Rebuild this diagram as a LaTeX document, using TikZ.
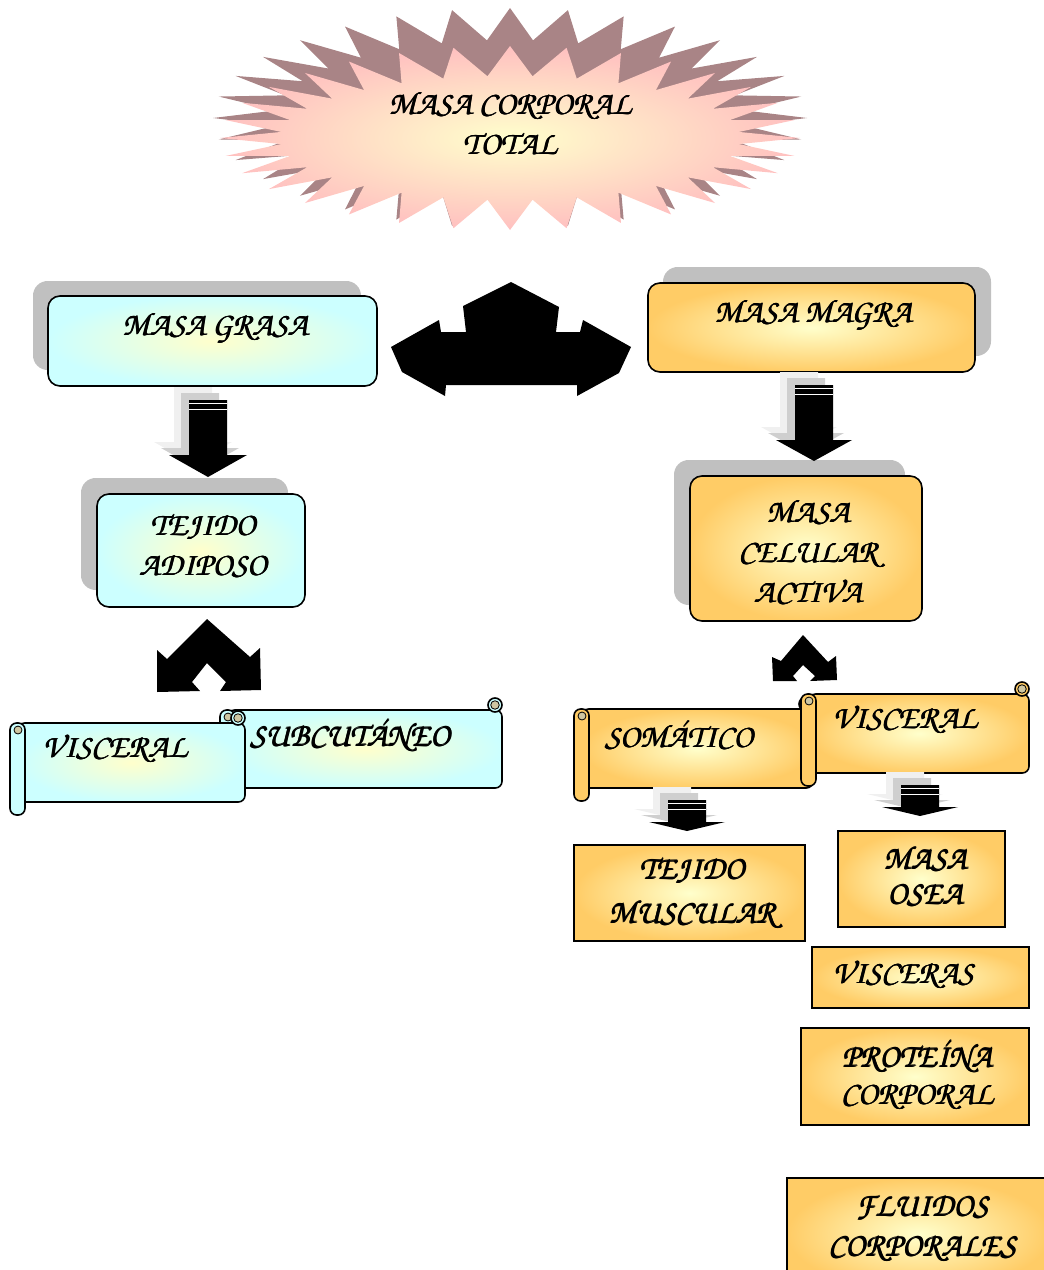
\documentclass[tikz,border=0pt]{standalone}
\usepackage[T1]{fontenc}
\definecolor{cy}{HTML}{CCFFFF}
\definecolor{ly}{HTML}{FFFFCC}
\definecolor{og}{HTML}{FFCC66}
\definecolor{pk}{HTML}{FFC0C0}
\definecolor{mv}{HTML}{A98486}
\definecolor{sh}{HTML}{C0C0C0}
\definecolor{tn}{HTML}{CFC7A2}
\newcommand\zc{\fontencoding{T1}\fontfamily{pzc}\fontseries{mb}\fontshape{it}\fontsize{24.5}{30}\selectfont}
\newcommand\bl[1]{\leavevmode\rlap{#1}\rlap{\kern0.3pt\raisebox{0.35pt}{#1}}\kern0.55pt#1}
\tikzset{
 lbl/.style={font=\zc, align=center, inner sep=0pt, text=black},
 cyfill/.style={shade, inner color=ly, outer color=cy},
 ogfill/.style={shade, inner color=ly, outer color=og},
 rbox/.style={draw=black, line width=1.2pt, rounded corners=9pt, inner sep=0pt},
 sbox/.style={draw=black, line width=1.5pt, inner sep=0pt},
 shadowbox/.style={fill=sh, rounded corners=11pt},
}
\newcommand\arrowpoly[9]{\fill[#1] ({#4-#8+#2},{#5+#3}) -- ({#4+#8+#2},{#5+#3}) -- ({#4+#8+#2},{#6+#3}) -- ({#4+#9+#2},{#6+#3}) -- ({#4+#2},{#7+#3}) -- ({#4-#9+#2},{#6+#3}) -- ({#4-#8+#2},{#6+#3}) -- cycle;}
\newcommand\blockdown[6]{%
 \arrowpoly{gray!12}{-15}{-13}{#1}{#2}{#3}{#4}{#5}{#6}
 \arrowpoly{gray!38}{-8}{-7}{#1}{#2}{#3}{#4}{#5}{#6}
 \arrowpoly{black}{0}{0}{#1}{#2}{#3}{#4}{#5}{#6}
 \draw[white, line width=0.5pt] ({#1-#5},{#2+3}) -- ({#1+#5},{#2+3});
 \draw[white, line width=0.5pt] ({#1-#5},{#2+9}) -- ({#1+#5},{#2+9});
}
\newcommand\scrollshape[5]{%
 \draw[line width=1.2pt, shade, inner color=ly, outer color=#5, rounded corners=5pt] ({#1+8},#2) -- (#3,#2) -- (#3,#4) -- ({#1+8},#4) -- cycle;
 \filldraw[line width=1.2pt, fill=#5] ({#3-7},{#2-5}) circle[radius=5.25pt];
 \filldraw[line width=0.6pt, fill=tn] ({#3-7},{#2-5}) circle[radius=3.2pt];
 \draw[line width=1.2pt, fill=#5, rounded corners=5pt] (#1,#2) rectangle ({#1+15},{#4+13});
 \filldraw[line width=0.6pt, fill=tn] ({#1+8},{#2+7}) circle[radius=3pt];
}
\begin{document}
\begin{tikzpicture}[x=0.75pt, y=-0.75pt]
\useasboundingbox (0,0) rectangle (1044,1270);
% starburst
\fill[mv] (807,118) foreach \i in {1,...,63}{ -- ({510+(297-62*mod(\i,2))*cos(\i*5.625)},{118+(110-32*mod(\i,2))*sin(\i*5.625)}) } -- cycle;
\path[shade, inner color=ly, outer color=pk] (800,138) foreach \i in {1,...,63}{ -- ({510+(290-60*mod(\i,2))*cos(\i*5.625)},{138+(92-30*mod(\i,2))*sin(\i*5.625)}) } -- cycle;
% rounded boxes with shadows
\fill[shadowbox] (33,281) rectangle (361,370);
\node[rbox, cyfill, minimum width=246.75pt, minimum height=67.5pt] (grasa) at (212.5,341) {};
\fill[shadowbox] (663,267) rectangle (991,356);
\node[rbox, ogfill, minimum width=245.25pt, minimum height=66.75pt] (magra) at (811.5,327.5) {};
\fill[shadowbox] (81,478) rectangle (288,590);
\node[rbox, cyfill, minimum width=156pt, minimum height=84.75pt] (adiposo) at (201,550.5) {};
\fill[shadowbox] (674,460) rectangle (905,605);
\node[rbox, ogfill, minimum width=174pt, minimum height=108.75pt] (celular) at (806,548.5) {};
% central three-way arrow
\fill[black] (511,282) -- (559,307) -- (556,332) -- (580,332) -- (583,320) -- (631,347) -- (619,373) -- (577,396) -- (577,385) -- (446,385) -- (445,396) -- (402,372) -- (391,347) -- (439,320) -- (441,332) -- (466,332) -- (463,306) -- cycle;
% down arrows
\blockdown{208}{400}{455}{477}{19}{39}
\blockdown{814}{385}{440}{461}{19}{38}
% chevrons
\fill[black] (207,619) -- (167,659) -- (157,650) -- (157,692) -- (200,691) -- (192,682) -- (207,663) -- (226,682) -- (220,691) -- (261,690) -- (260,648) -- (250,657) -- cycle;
\fill[black] (803,635) -- (781,661) -- (772,657) -- (773,681) -- (797,681) -- (793,676) -- (803,665) -- (815,676) -- (810,681) -- (837,680) -- (836,656) -- (828,662) -- cycle;
% scrolls
\scrollshape{220}{710}{502}{788}{cy}
\scrollshape{10}{723}{245}{802}{cy}
\scrollshape{574}{709}{813}{788}{og}
\scrollshape{801}{694}{1029}{773}{og}
\blockdown{687}{800}{822}{831}{19}{38}
\blockdown{920}{785}{807}{816}{19}{38}
% square boxes
\node[sbox, ogfill, minimum width=173.25pt, minimum height=72pt] (muscular) at (689.5,893) {};
\node[sbox, ogfill, minimum width=125.25pt, minimum height=72pt] (osea) at (921.5,879) {};
\node[sbox, ogfill, minimum width=162.75pt, minimum height=45.75pt] (visceras) at (920.5,977.5) {};
\node[sbox, ogfill, minimum width=171pt, minimum height=72.75pt] (proteina) at (915,1076.5) {};
\node[sbox, ogfill, minimum width=197.25pt, minimum height=84pt] (fluidos) at (918.5,1234) {};
% texts
\node[lbl] (ttitle) at (510,123) {\bl{MASA CORPORAL}\\\bl{TOTAL}};
\node[lbl] (tgrasa) at (215,328) {\bl{MASA GRASA}};
\node[lbl] (tmagra) at (813,315) {\bl{MASA MAGRA}};
\node[lbl] (tadiposo) at (203,546) {\bl{TEJIDO}\\\bl{ADIPOSO}};
\node[lbl] (tcelular) at (808,551) {\bl{MASA}\\\bl{CELULAR}\\\bl{ACTIVA}};
\node[lbl] (tviscl) at (115,749) {\bl{VISCERAL}};
\node[lbl] (tsubc) at (350,735) {\bl{SUBCUT\'ANEO}};
\node[lbl] (tsoma) at (679,735) {\bl{SOM\'ATICO}};
\node[lbl] (tviscr) at (905,720) {\bl{VISCERAL}};
\node[lbl] (tmusc) at (692,893) {\bl{TEJIDO}\\[3pt]\bl{MUSCULAR}};
\node[lbl] (tosea) at (925,876) {\bl{MASA}\\[-4pt]\bl{OSEA}};
\node[lbl] (tvisceras) at (903,975) {\bl{VISCERAS}};
\node[lbl] (tprot) at (917,1075) {\bl{PROTE\'INA}\\[-2pt]\bl{CORPORAL}};
\node[lbl] (tfluid) at (922,1228) {\bl{FLUIDOS}\\\bl{CORPORALES}};
\end{tikzpicture}
\end{document}
